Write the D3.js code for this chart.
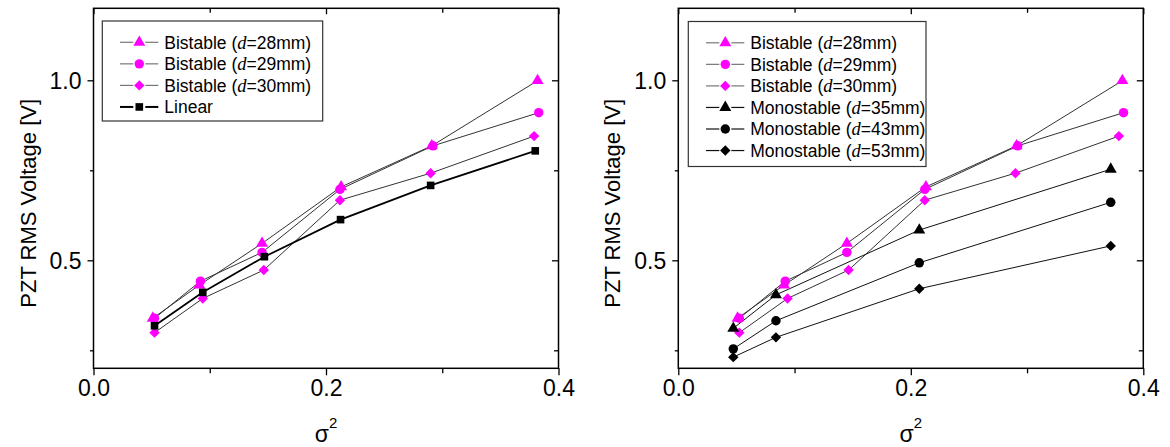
<!DOCTYPE html>
<html>
<head>
<meta charset="utf-8">
<script src="https://cdn.jsdelivr.net/npm/d3@7"></script>
<style>
  html, body { margin: 0; padding: 0; background: #fff; }
  svg { display: block; font-family: "Liberation Sans", Arial, sans-serif; }
</style>
</head>
<body>
<svg id="chart" width="1170" height="447"></svg>
<script>
// ---------------- data ----------------
const xTickLabels = ["0.0", "0.2", "0.4"];
const yTickLabels = ["0.5", "1.0"];
const xMajorTicks = [0, 0.2, 0.4];
const xMinorTicks = [0.1, 0.3];
const yMajorTicks = [0.5, 1.0];
const yMinorTicks = [0.25, 0.75];

const bistable28X = [0.051, 0.091, 0.145, 0.213, 0.291, 0.382];
const bistable28Y = [0.339, 0.431, 0.547, 0.704, 0.818, 0.999];
const bistable29X = [0.0525, 0.092, 0.145, 0.212, 0.292, 0.383];
const bistable29Y = [0.339, 0.442, 0.522, 0.697, 0.818, 0.910];
const bistable30X = [0.0525, 0.094, 0.1465, 0.212, 0.290, 0.379];
const bistable30Y = [0.299, 0.394, 0.473, 0.667, 0.742, 0.845];
const linearX = [0.0525, 0.094, 0.147, 0.2125, 0.290, 0.380];
const linearY = [0.318, 0.411, 0.510, 0.613, 0.708, 0.804];
const monoX = [0.0473, 0.084, 0.2073, 0.372];
const mono35Y = [0.311, 0.404, 0.584, 0.753];
const mono43Y = [0.254, 0.332, 0.493, 0.661];
const mono53Y = [0.231, 0.286, 0.421, 0.540];

const seriesNames = {
  b28: ["Bistable (", "d", "=28mm)"],
  b29: ["Bistable (", "d", "=29mm)"],
  b30: ["Bistable (", "d", "=30mm)"],
  m35: ["Monostable (", "d", "=35mm)"],
  m43: ["Monostable (", "d", "=43mm)"],
  m53: ["Monostable (", "d", "=53mm)"],
  lin: ["Linear"]
};

const xDomain = [0, 0.4];
const yDomain = [0.2, 1.2];

// ---------------- helpers ----------------
const MAGENTA = "#ff00ff";
const zip = (xs, ys) => xs.map((x, i) => ({ x: x, y: ys[i] }));

const symbols = {
  triangle: d3.symbol().type(d3.symbolTriangle).size(62)(),
  circle: d3.symbol().type(d3.symbolCircle).size(70)(),
  diamond: d3.symbol().type(d3.symbolSquare).size(54)(),
  square: d3.symbol().type(d3.symbolSquare).size(58)()
};
const symRotate = { triangle: 0, circle: 0, diamond: 45, square: 0 };

const leftSeries = [
  { key: "b28", data: zip(bistable28X, bistable28Y), sym: "triangle", fill: MAGENTA, stroke: "#333", sw: 1, legStroke: "#777" },
  { key: "b29", data: zip(bistable29X, bistable29Y), sym: "circle", fill: MAGENTA, stroke: "#333", sw: 1, legStroke: "#777" },
  { key: "b30", data: zip(bistable30X, bistable30Y), sym: "diamond", fill: MAGENTA, stroke: "#333", sw: 1, legStroke: "#777" },
  { key: "lin", data: zip(linearX, linearY), sym: "square", fill: "#000", stroke: "#000", sw: 1.8, legStroke: "#000" }
];
const rightSeries = [
  { key: "b28", data: zip(bistable28X, bistable28Y), sym: "triangle", fill: MAGENTA, stroke: "#333", sw: 1, legStroke: "#777" },
  { key: "b29", data: zip(bistable29X, bistable29Y), sym: "circle", fill: MAGENTA, stroke: "#333", sw: 1, legStroke: "#777" },
  { key: "b30", data: zip(bistable30X, bistable30Y), sym: "diamond", fill: MAGENTA, stroke: "#333", sw: 1, legStroke: "#777" },
  { key: "m35", data: zip(monoX, mono35Y), sym: "triangle", fill: "#000", stroke: "#111", sw: 1, legStroke: "#111" },
  { key: "m43", data: zip(monoX, mono43Y), sym: "circle", fill: "#000", stroke: "#111", sw: 1, legStroke: "#111" },
  { key: "m53", data: zip(monoX, mono53Y), sym: "diamond", fill: "#000", stroke: "#111", sw: 1, legStroke: "#111" }
];

const svg = d3.select("#chart");

function drawPanel(opts) {
  const { left, top, width, height, series, legend } = opts;
  const x = d3.scaleLinear().domain(xDomain).range([left, left + width]);
  const y = d3.scaleLinear().domain(yDomain).range([top + height, top]);
  const g = svg.append("g");

  // bottom axis (outward ticks)
  const bottom = g.append("g").attr("transform", `translate(0,${top + height})`);
  bottom.call(d3.axisBottom(x).tickValues(xMajorTicks).tickSize(7).tickPadding(4)
      .tickFormat((d, i) => xTickLabels[i]))
    .call(a => a.select(".domain").remove());
  bottom.append("g").call(d3.axisBottom(x).tickValues(xMinorTicks).tickSize(5).tickFormat(""))
    .call(a => a.select(".domain").remove());

  // left axis (outward ticks)
  const leftAx = g.append("g").attr("transform", `translate(${left},0)`);
  leftAx.call(d3.axisLeft(y).tickValues(yMajorTicks).tickSize(6).tickPadding(6)
      .tickFormat((d, i) => yTickLabels[i]))
    .call(a => a.select(".domain").remove());
  leftAx.append("g").call(d3.axisLeft(y).tickValues(yMinorTicks).tickSize(3.5).tickFormat(""))
    .call(a => a.select(".domain").remove());

  // top axis mirrored (inward)
  const topAx = g.append("g").attr("transform", `translate(0,${top})`);
  topAx.call(d3.axisTop(x).tickValues(xMajorTicks).tickSize(-6).tickFormat(""))
    .call(a => a.select(".domain").remove());
  topAx.append("g").call(d3.axisTop(x).tickValues(xMinorTicks).tickSize(-4.5).tickFormat(""))
    .call(a => a.select(".domain").remove());

  // right axis mirrored (inward)
  const rightAx = g.append("g").attr("transform", `translate(${left + width},0)`);
  rightAx.call(d3.axisRight(y).tickValues(yMajorTicks).tickSize(-6.5).tickFormat(""))
    .call(a => a.select(".domain").remove());
  rightAx.append("g").call(d3.axisRight(y).tickValues(yMinorTicks).tickSize(-4.5).tickFormat(""))
    .call(a => a.select(".domain").remove());

  g.selectAll(".tick line").attr("stroke", "#000").attr("stroke-width", 1.3);
  g.selectAll(".tick text").attr("font-family", "Liberation Sans, Arial, sans-serif")
    .attr("font-size", 23).attr("fill", "#000");
  bottom.selectAll(".tick text").attr("dy", "0.71em");
  leftAx.selectAll(".tick text").attr("dy", "0.34em");

  // frame
  g.append("rect").attr("x", left).attr("y", top).attr("width", width).attr("height", height)
    .attr("fill", "none").attr("stroke", "#000").attr("stroke-width", 1.5);

  // series
  const line = d3.line().x(d => x(d.x)).y(d => y(d.y));
  series.forEach(s => {
    g.append("path").attr("d", line(s.data)).attr("fill", "none")
      .attr("stroke", s.stroke).attr("stroke-width", s.sw);
  });
  series.forEach(s => {
    g.append("g").selectAll("path").data(s.data).join("path")
      .attr("d", symbols[s.sym])
      .attr("transform", d => `translate(${x(d.x)},${y(d.y)}) rotate(${symRotate[s.sym]})`)
      .attr("fill", s.fill);
  });

  // axis titles
  g.append("text")
    .attr("transform", `translate(${left - 58},${top + 195}) rotate(-90)`)
    .attr("text-anchor", "middle").attr("font-size", 22).attr("fill", "#000")
    .text("PZT RMS Voltage [V]");
  const xt = g.append("text").attr("x", left + width / 2).attr("y", 442)
    .attr("text-anchor", "middle").attr("font-size", 23).attr("fill", "#000");
  xt.append("tspan").text("σ");
  xt.append("tspan").attr("font-size", 15).attr("dy", -14).text("2");

  // legend
  const lg = g.append("g");
  lg.append("rect").attr("x", legend.x).attr("y", legend.y).attr("width", legend.w).attr("height", legend.h)
    .attr("fill", "#fff").attr("stroke", "#333").attr("stroke-width", 1.2);
  series.forEach((s, i) => {
    const cy = legend.y + 21.3 + i * 21.55;
    const lx0 = legend.x + 17.7, mx = legend.x + 37, lx1 = legend.x + 56;
    lg.append("line").attr("x1", lx0).attr("x2", mx - 6).attr("y1", cy).attr("y2", cy)
      .attr("stroke", s.legStroke).attr("stroke-width", s.key === "lin" ? 2 : 1.2);
    lg.append("line").attr("x1", mx + 6).attr("x2", lx1).attr("y1", cy).attr("y2", cy)
      .attr("stroke", s.legStroke).attr("stroke-width", s.key === "lin" ? 2 : 1.2);
    lg.append("path").attr("d", symbols[s.sym])
      .attr("transform", `translate(${mx},${cy}) rotate(${symRotate[s.sym]})`)
      .attr("fill", s.fill);
    const t = lg.append("text").attr("x", legend.x + 62).attr("y", cy).attr("dy", "0.36em")
      .attr("font-size", 17.5).attr("fill", "#000");
    const parts = seriesNames[s.key];
    t.append("tspan").text(parts[0]);
    if (parts.length > 1) {
      t.append("tspan").attr("font-family", "Liberation Serif, serif").attr("font-style", "italic")
        .attr("font-size", 18.5).text(parts[1]);
      t.append("tspan").text(parts[2]);
    }
  });
}

drawPanel({ left: 93.5, top: 8.3, width: 465, height: 360, series: leftSeries,
  legend: { x: 102.3, y: 21, w: 220.4, h: 100 } });
drawPanel({ left: 678.3, top: 8.3, width: 465, height: 360, series: rightSeries,
  legend: { x: 688.3, y: 21.5, w: 237.7, h: 145 } });
</script>
</body>
</html>
